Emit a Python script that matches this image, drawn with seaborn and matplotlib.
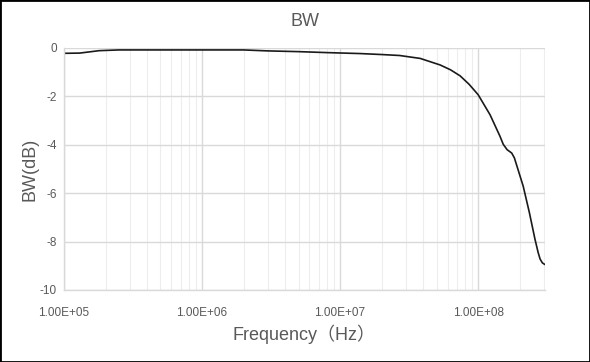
import numpy as np
import pandas as pd
import seaborn as sns
from matplotlib import pyplot as plt
from matplotlib import ticker

# values
freq = [1e5, 1.3e5, 1.8e5, 2.5e5, 5e5, 1e6, 2e6, 3e6, 5e6, 8e6, 1.4e7, 2e7,
        2.7e7, 3.8e7, 5.3e7, 6.3e7, 7.4e7, 8.6e7, 1e8, 1.22e8, 1.44e8, 1.52e8,
        1.62e8, 1.75e8, 1.83e8, 2.12e8, 2.35e8, 2.58e8, 2.72e8, 2.81e8, 2.92e8,
        3.05e8]
bw = [-0.22, -0.21, -0.11, -0.08, -0.08, -0.08, -0.08, -0.12, -0.15, -0.19,
      -0.23, -0.27, -0.31, -0.43, -0.70, -0.90, -1.15, -1.50, -1.93, -2.76,
      -3.65, -3.98, -4.20, -4.34, -4.54, -5.71, -6.80, -7.90, -8.45, -8.72,
      -8.88, -8.95]
x_ticks = [1e5, 1e6, 1e7, 1e8]
y_ticks = [0, -2, -4, -6, -8, -10]

df = pd.DataFrame({"freq": freq, "bw": bw})

sns.set_theme(style="white")
plt.rcParams['font.family'] = ['Liberation Sans', 'Noto Sans CJK JP', 'DejaVu Sans']
GREY = "#595959"

fig = plt.figure(figsize=(5.9, 3.62), dpi=100)
ax = fig.add_axes([64 / 590, 1 - 290 / 362, (545 - 64) / 590, (290 - 48) / 362])

sns.lineplot(data=df, x="freq", y="bw", color="#1a1a1a", linewidth=1.2, ax=ax)

ax.set_xscale("log")
ax.set_xlim(1e5, 3.05e8)
ax.set_ylim(-10, 0)
ax.set_xticks(x_ticks)
ax.xaxis.set_major_formatter(ticker.FuncFormatter(lambda v, p: f"{v:.2E}"))
ax.xaxis.set_minor_locator(ticker.LogLocator(base=10, subs=np.arange(2, 10)))
ax.xaxis.set_minor_formatter(ticker.NullFormatter())
ax.set_yticks(y_ticks)
ax.yaxis.set_major_formatter(ticker.FuncFormatter(lambda v, p: f"{int(v)}"))

ax.grid(which="major", color="#d9d9d9", linewidth=1)
ax.grid(which="minor", axis="x", color="#ededed", linewidth=0.8)
ax.set_axisbelow(True)
for s in ["top", "right"]:
    ax.spines[s].set_visible(False)
for s in ["left", "bottom"]:
    ax.spines[s].set_color("#d9d9d9")
    ax.spines[s].set_linewidth(1)
ax.tick_params(axis="x", which="both", length=0, pad=12, labelsize=8.5, labelcolor=GREY)
ax.tick_params(axis="y", length=0, pad=5, labelsize=8.5, labelcolor=GREY)

ax.set_title("BW", fontsize=13, color=GREY, pad=16)
ax.set_xlabel("Frequency（Hz）", fontsize=13, color=GREY, labelpad=4)
ax.set_ylabel("BW(dB)", fontsize=13, color=GREY, labelpad=1)

# chart border
fig.patches.append(plt.Rectangle((0, 0), 1, 1, transform=fig.transFigure,
                                 fill=False, edgecolor="black", linewidth=2))

fig.savefig("out.png", dpi=100, facecolor="white")
